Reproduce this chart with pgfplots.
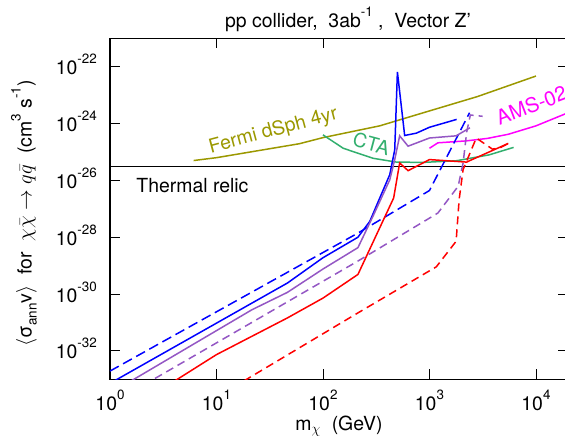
\documentclass[border=0pt]{standalone}
\usepackage{fontspec}
\setmainfont{TeX Gyre Heros}
\usepackage{pgfplots}
\pgfplotsset{compat=1.18}

\definecolor{cblue}{RGB}{0,0,255}
\definecolor{cpurple}{RGB}{148,87,196}
\definecolor{cred}{RGB}{255,0,0}
\definecolor{colive}{RGB}{155,152,0}
\definecolor{cgreen}{RGB}{50,175,110}
\definecolor{cmagenta}{RGB}{255,0,255}

\newcommand\fs{\fontsize{19.5}{23}\selectfont}
\newcommand\sups[1]{\raisebox{11bp}{\fontsize{13.5}{14}\selectfont #1}}
\newcommand\subs[1]{\raisebox{-5bp}{\fontsize{13.5}{14}\selectfont #1}}

\begin{document}
\begin{tikzpicture}
\begin{axis}[
    name=ax,
    scale only axis,
    width=458bp, height=341bp,
    xmode=log, ymode=log,
    log basis x=10, log basis y=10,
    xmin=1, xmax=2e4,
    ymin=1e-33, ymax=1e-21,
    xtick={1,10,100,1000,10000},
    ytick={1e-32,1e-30,1e-28,1e-26,1e-24,1e-22},
    yminorticks=false,
    tick align=inside,
    major tick length=10bp,
    minor tick length=5bp,
    axis line style={line width=1.2bp},
    every tick/.style={black, line width=0.9bp},
    xticklabel={10\sups{\pgfmathparse{int(round(\tick))}\pgfmathresult}},
    yticklabel={10\sups{\pgfmathparse{int(round(\tick))}\pgfmathresult}},
    xticklabel style={font=\fs, anchor=base, inner sep=0pt, yshift=-30.7bp},
    yticklabel style={font=\fs, anchor=base east, inner sep=0pt, xshift=-13bp, yshift=-8bp},
    clip=true,
]
% thermal relic
\addplot[black, line width=1.6bp] coordinates {(1,3.1e-26) (20000,3.1e-26)};

% Fermi dSph 4yr
\addplot[colive, line width=1.5bp] coordinates {
  (6.1,5.0e-26) (10,6.3e-26) (60,1.95e-25) (100,3.2e-25) (341,8.3e-25)
  (810,2.2e-24) (2820,8.9e-24) (10000,4.7e-23)};
% CTA
\addplot[cgreen, line width=1.5bp] coordinates {
  (100,4.0e-25) (155,1.35e-25) (295,6.0e-26) (490,4.4e-26) (870,4.3e-26)
  (1780,4.9e-26) (3630,7.9e-26) (6170,1.45e-25)};
% AMS-02
\addplot[cmagenta, line width=1.5bp] coordinates {
  (1000,1.35e-25) (1200,2.1e-25) (2200,2.45e-25) (3500,3.0e-25)
  (5500,4.2e-25) (10000,8.3e-25) (20000,2.4e-24)};

% blue solid
\addplot[cblue, line width=1.5bp] coordinates {
  (1,7.2e-34) (21.5,4.8e-31) (46.4,2.45e-30) (100,1.9e-29) (213,1.0e-28)
  (275,3.6e-28) (424,1.6e-26) (472,1.2e-25) (500,6.6e-23) (585,3.8e-25)
  (754,4.6e-25) (1000,7.4e-25) (1800,1.4e-24)};
% blue dashed
\addplot[cblue, line width=1.5bp, dash pattern=on 10bp off 5bp] coordinates {
  (1,1.95e-33) (213,1.4e-28) (1000,4.4e-27) (2380,2.4e-24)};
% purple solid
\addplot[cpurple, line width=1.5bp] coordinates {
  (1,3.2e-34) (21.5,2.8e-31) (46.4,1.15e-30) (100,7.6e-30) (213,4.3e-29)
  (295,5.5e-28) (424,1.05e-26) (472,5.4e-26) (525,3.7e-25) (630,1.6e-25)
  (1000,3.1e-25) (1780,3.7e-25) (2400,7.1e-25)};
% purple dashed
\addplot[cpurple, line width=1.5bp, dash pattern=on 8bp off 5bp] coordinates {
  (1,1.3e-34) (213,1.45e-29) (1200,7.1e-28) (1860,6.2e-27) (2070,4.1e-26)
  (2240,5.2e-25) (2420,2.0e-24) (3160,1.8e-24)};
% red solid
\addplot[cred, line width=1.5bp] coordinates {
  (1,3.2e-35) (10,7.4e-33) (46.4,1.45e-31) (100,7.2e-31) (213,4.9e-30)
  (461,2.4e-27) (525,4.1e-26) (630,2.2e-26) (1000,5.4e-26) (2240,4.4e-26)
  (2400,5.0e-26) (5500,2.0e-25)};
% red dashed
\addplot[cred, line width=1.5bp, dash pattern=on 8bp off 5bp] coordinates {
  (1,1.35e-36) (205,2.0e-31) (1160,9.1e-30) (1780,7.2e-29) (1900,2.1e-27)
  (2070,2.4e-26) (2750,3.1e-25) (3900,1.26e-25) (4600,1.4e-25) (5500,2.0e-25)};

\node[anchor=base west, font=\fs] at (axis cs:1.64,3.9e-27) {Thermal relic};
\node[anchor=base west, font=\fs, text=colive, rotate=15, inner sep=0pt] at (axis cs:8.8,9.1e-26) {Fermi dSph 4yr};
\node[font=\fs, text=cgreen, rotate=-15, inner sep=0pt] at (axis cs:285,1.95e-25) {CTA};
\node[anchor=base west, font=\fontsize{20.5}{24}\selectfont, text=cmagenta, rotate=21, inner sep=0pt] at (axis cs:4550,8.6e-25) {AMS-02};
\end{axis}

\node[anchor=base, font=\fs] at ([shift={(238bp,11bp)}]ax.north west)
  {pp collider,\ \ 3ab\sups{-1} ,\ \ Vector Z'};
\node[anchor=base, font=\fs] at ([shift={(229bp,-50.7bp)}]ax.south west)
  {m$_{\chi}$\ \ (GeV)};
\node[anchor=base, font=\fs, rotate=90] at ([shift={(-78.3bp,-4.7bp)}]ax.west)
  {$\langle$σ\subs{ann}v$\rangle$\ \ for\ \ $\chi\bar{\chi}\rightarrow q\bar{q}$\ \ (cm\sups{3} s\sups{-1})};

\pgfresetboundingbox
\path[use as bounding box] ([shift={(-110bp,-65.7bp)}]ax.south west) rectangle ([shift={(455bp,379.3bp)}]ax.south west);
\end{tikzpicture}
\end{document}
